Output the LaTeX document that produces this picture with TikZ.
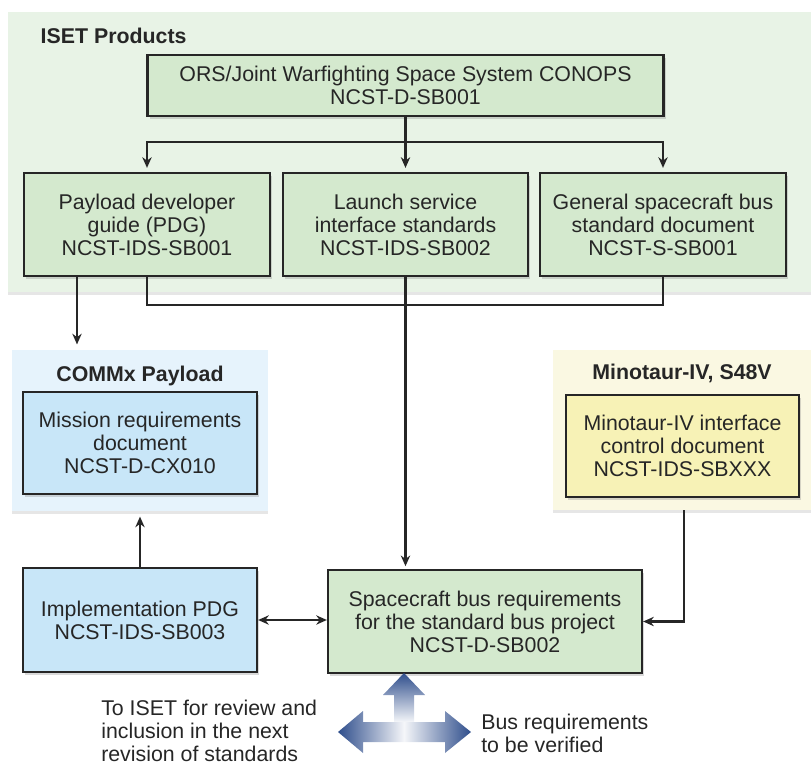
\documentclass[tikz,border=0pt]{standalone}
\usepackage{fontspec}
\setmainfont{Liberation Sans}
\usetikzlibrary{arrows.meta,shadows}

\definecolor{isetbg}{RGB}{232,243,230}
\definecolor{isetdoc}{RGB}{212,233,206}
\definecolor{commbg}{RGB}{230,243,252}
\definecolor{commdoc}{RGB}{200,230,248}
\definecolor{minobg}{RGB}{250,248,226}
\definecolor{minodoc}{RGB}{247,242,182}
\definecolor{bigarrow}{RGB}{47,78,140}

\tikzset{
  doc/.style={draw=black!85, line width=1.7pt, align=center, inner sep=0pt,
    drop shadow={shadow xshift=1.5pt, shadow yshift=-2pt, opacity=0.3}},
  panel/.style={inner sep=0pt,
    drop shadow={shadow xshift=0pt, shadow yshift=-2.5pt, opacity=0.2}},
  link/.style={line width=1.7pt, draw=black!85},
  >={Stealth[length=8pt,width=7pt]}
}

\begin{document}
\begin{tikzpicture}[x=0.75pt,y=-0.75pt,font=\fontsize{16}{17.25}\selectfont,text=black!85]
  \useasboundingbox (0,0) rectangle (811,764);

  % Panels
  \node[panel,fill=isetbg,minimum width=602.25pt,minimum height=210pt] (iset) at (409.5,152) {};
  \node[panel,fill=commbg,minimum width=192pt,minimum height=120.75pt] (comm) at (140,430.5) {};
  \node[panel,fill=minobg,minimum width=193.5pt,minimum height=120pt] (mino) at (682,430) {};
  \node[anchor=west,font=\fontsize{16}{17.25}\selectfont\bfseries] (isetlabel) at (36,36) {ISET Products};
  \node[font=\fontsize{16}{17.25}\selectfont\bfseries] (commlabel) at (140,376) {COMMx Payload};
  \node[font=\fontsize{16}{17.25}\selectfont\bfseries] (minolabel) at (682,373) {Minotaur-IV, S48V};

  % ISET documents
  \node[doc,fill=isetdoc,minimum width=387pt,minimum height=45.75pt] (conops) at (405.5,85.5)
    {ORS/Joint Warfighting Space System CONOPS\\NCST-D-SB001};
  \node[doc,fill=isetdoc,minimum width=184pt,minimum height=77.25pt] (pdg) at (147,224.5)
    {Payload developer\\guide (PDG)\\NCST-IDS-SB001};
  \node[doc,fill=isetdoc,minimum width=184pt,minimum height=77.25pt] (launch) at (405.5,224.5)
    {Launch service\\interface standards\\NCST-IDS-SB002};
  \node[doc,fill=isetdoc,minimum width=184pt,minimum height=77.25pt] (general) at (663,224.5)
    {General spacecraft bus\\standard document\\NCST-S-SB001};

  % Other documents
  \node[doc,fill=commdoc,minimum width=175.5pt,minimum height=76.5pt] (mission) at (140,443)
    {Mission requirements\\document\\NCST-D-CX010};
  \node[doc,fill=minodoc,minimum width=174.75pt,minimum height=76.5pt] (icd) at (682.5,446)
    {Minotaur-IV interface\\control document\\NCST-IDS-SBXXX};
  \node[doc,fill=commdoc,minimum width=175.5pt,minimum height=78pt] (impl) at (140,620)
    {Implementation PDG\\NCST-IDS-SB003};
  \node[doc,fill=isetdoc,minimum width=235.5pt,minimum height=77.25pt] (bus) at (485,621.5)
    {Spacecraft bus requirements\\for the standard bus project\\NCST-D-SB002};

  % Connectors
  \coordinate (fork) at (405.5,142);
  \coordinate (join) at (405.5,305);
  \draw[link] (conops.south) -- (fork);
  \draw[link,->,shorten >=3pt] (fork) -| (pdg.north);
  \draw[link,->,shorten >=3pt] (fork) -- (launch.north);
  \draw[link,->,shorten >=3pt] (fork) -| (general.north);
  \draw[link] (pdg.south) |- (join) -| (general.south);
  \draw[link,->,shorten >=2pt] (launch.south) -- (launch.south |- bus.north);
  \draw[link,->,shorten >=4pt] ([xshift=-52.5pt]pdg.south) -- ([xshift=-52.5pt]pdg.south |- comm.north);
  \draw[link,->,shorten >=4pt] (impl.north) -- (comm.south);
  \draw[link,<->] (impl.east) -- (impl.east -| bus.west);
  \draw[link,->] ([xshift=1.5pt]mino.south) |- (bus.east);

  % Big arrows
  \shade[top color=bigarrow,bottom color=white!95!bigarrow]
    (394,722) -- (394,695) -- (383,695) -- (404,673) -- (425,695) -- (414,695) -- (414,722) -- cycle;
  \shade[left color=bigarrow,right color=white!95!bigarrow]
    (404,722) -- (363,722) -- (363,711) -- (338,732) -- (363,753) -- (363,742) -- (404,742) -- cycle;
  \shade[left color=white!95!bigarrow,right color=bigarrow]
    (404,722) -- (445,722) -- (445,711) -- (471,732) -- (445,753) -- (445,742) -- (404,742) -- cycle;
  \node[anchor=west,align=left,inner sep=0pt] (review) at (101,731)
    {To ISET for review and\\inclusion in the next\\revision of standards};
  \node[anchor=west,align=left,inner sep=0pt] (verify) at (481,733)
    {Bus requirements\\to be verified};

\end{tikzpicture}
\end{document}
